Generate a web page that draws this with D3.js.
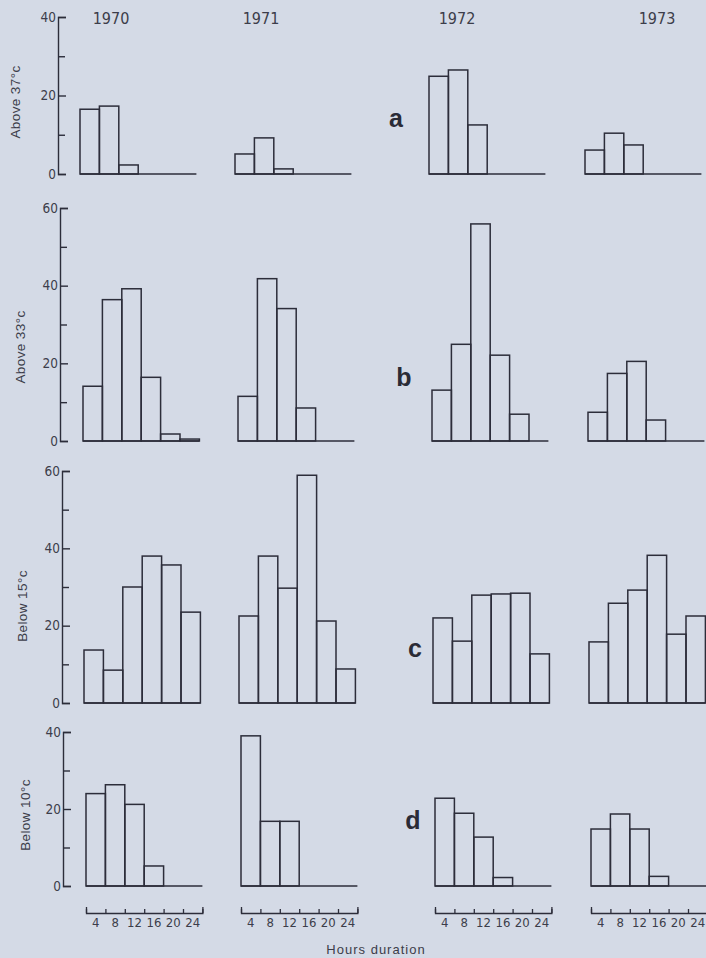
<!DOCTYPE html>
<html>
<head>
<meta charset="utf-8">
<script src="https://cdn.jsdelivr.net/npm/d3@7.9.0/dist/d3.min.js"></script>
<style>
  html, body { margin: 0; padding: 0; background: #d4dae6; }
  svg { display: block; }
</style>
</head>
<body>
<svg id="chart"></svg>
<script>
// --- data ---
const years = ["1970", "1971", "1972", "1973"];
const bins = ["4", "8", "12", "16", "20", "24"];
const rowLabels = ["Above 37°c", "Above 33°c", "Below 15°c", "Below 10°c"];
const panelLetters = ["a", "b", "c", "d"];
const rowMax = [40, 60, 60, 40];
const majorTicks = [[0, 20, 40], [0, 20, 40, 60], [0, 20, 40, 60], [0, 20, 40]];
const minorTicks = [[10, 30], [10, 30, 50], [10, 30, 50], [10, 30]];

// one array per year, values per bin
const above37 = [
    [16.5, 17.3, 2.3, 0, 0, 0],
    [5.1, 9.2, 1.3, 0, 0, 0],
    [24.9, 26.5, 12.5, 0, 0, 0],
    [6.1, 10.4, 7.4, 0, 0, 0]
];
const above33 = [
    [14.1, 36.4, 39.2, 16.4, 1.8, 0.5],
    [11.5, 41.8, 34.1, 8.5, 0, 0],
    [13.1, 24.9, 55.9, 22.1, 6.9, 0],
    [7.4, 17.4, 20.5, 5.4, 0, 0]
];
const below15 = [
    [13.7, 8.5, 30, 38, 35.7, 23.5],
    [22.5, 38, 29.7, 58.9, 21.2, 8.8],
    [22, 16, 27.9, 28.2, 28.4, 12.7],
    [15.8, 25.8, 29.2, 38.2, 17.8, 22.5]
];
const below10 = [
    [24, 26.3, 21.2, 5.2, 0, 0],
    [39, 16.8, 16.8, 0, 0, 0],
    [22.8, 18.9, 12.7, 2.2, 0, 0],
    [14.8, 18.7, 14.8, 2.5, 0, 0]
];
const rows = [above37, above33, below15, below10];

// --- layout ---
const W = 706, H = 958;
const ink = "#2c2d3a";
const textCol = "#3c3d4a";
const narrow = "'Liberation Sans Narrow', 'DejaVu Sans Condensed', 'Liberation Sans', sans-serif";
const regular = "'Liberation Sans', Arial, sans-serif";

const rowBase = [174, 441, 703, 886];
const rowTop = [17, 208, 471, 732];
const rowShift = [-4, -1, 0, 2];
const colX = [84, 239, 433, 589];
const binW = 19.4;
const axisX = [58, 60, 62, 63];
const titleX = [15, 20, 22, 25];
const titleY = [102, 347, 606, 815];
const yearX = [111, 261, 457, 657];
const letterPos = [[396, 118], [404, 377], [415, 648], [413, 820]];

const svg = d3.select("#chart").attr("width", W).attr("height", H);

// year headings
svg.selectAll(".year")
    .data(years)
    .enter()
    .append("text")
    .attr("class", "year")
    .attr("x", (d, i) => yearX[i])
    .attr("y", 24)
    .attr("text-anchor", "middle")
    .style("font-family", narrow)
    .style("font-size", "16px")
    .attr("fill", textCol)
    .text(d => d);

rows.forEach((rowData, r) => {
    const y = d3.scaleLinear()
        .domain([0, rowMax[r]])
        .range([rowBase[r], rowTop[r]]);

    // y axis on the left of first panel, ticks pointing inwards
    const ax = svg.append("g").attr("transform", `translate(${axisX[r]},0)`);
    ax.call(d3.axisLeft(y).tickValues(majorTicks[r]).tickSize(-8).tickSizeOuter(-8).tickPadding(2));
    ax.append("g").call(d3.axisLeft(y).tickValues(minorTicks[r]).tickSize(-7).tickFormat(""))
        .select(".domain").remove();
    ax.selectAll("path, line").attr("stroke", ink).attr("stroke-width", 1.4);
    ax.selectAll("text")
        .style("font-family", narrow)
        .style("font-size", "13.5px")
        .attr("fill", textCol);

    // row title
    svg.append("text")
        .attr("transform", `translate(${titleX[r]},${titleY[r]}) rotate(-90)`)
        .attr("text-anchor", "middle")
        .attr("dominant-baseline", "central")
        .style("font-family", regular)
        .style("font-size", "13.5px")
        .style("letter-spacing", "0.4px")
        .attr("fill", textCol)
        .text(rowLabels[r]);

    // panel letter
    svg.append("text")
        .attr("x", letterPos[r][0])
        .attr("y", letterPos[r][1])
        .attr("text-anchor", "middle")
        .attr("dominant-baseline", "central")
        .style("font-family", regular)
        .style("font-size", "25px")
        .style("font-weight", "bold")
        .attr("fill", "#2a2b36")
        .text(panelLetters[r]);

    rowData.forEach((vals, c) => {
        const x0 = colX[c] + rowShift[r];
        const x = d3.scaleBand()
            .domain(bins)
            .range([x0, x0 + binW * bins.length])
            .padding(0);

        const g = svg.append("g");

        // baseline
        g.append("line")
            .attr("x1", x.range()[0])
            .attr("x2", x.range()[1])
            .attr("y1", y(0))
            .attr("y2", y(0))
            .attr("stroke", ink)
            .attr("stroke-width", 1.5);

        g.selectAll("rect")
            .data(vals.map((v, i) => ({ bin: bins[i], v: v })).filter(d => d.v > 0))
            .enter()
            .append("rect")
            .attr("x", d => x(d.bin))
            .attr("y", d => y(d.v))
            .attr("width", x.bandwidth())
            .attr("height", d => y(0) - y(d.v))
            .attr("fill", "none")
            .attr("stroke", ink)
            .attr("stroke-width", 1.5);

        // hours axis under the last row
        if (r === rows.length - 1) {
            const xb = d3.scaleLinear().domain([0, bins.length]).range(x.range());
            const bx = svg.append("g").attr("transform", "translate(0,913)");
            bx.call(d3.axisBottom(xb).tickValues(d3.range(0, bins.length + 1)).tickSize(-4).tickSizeOuter(-6).tickFormat(""));
            bx.selectAll("path, line").attr("stroke", ink).attr("stroke-width", 1.3);

            const lx = svg.append("g").attr("transform", "translate(0,916)");
            lx.call(d3.axisBottom(x).tickSize(0).tickPadding(2));
            lx.select(".domain").remove();
            lx.selectAll("text")
                .style("font-family", narrow)
                .style("font-size", "13px")
                .attr("fill", textCol);
        }
    });
});

svg.append("text")
    .attr("x", 376)
    .attr("y", 954)
    .attr("text-anchor", "middle")
    .style("font-family", regular)
    .style("font-size", "13px")
    .style("letter-spacing", "1px")
    .attr("fill", textCol)
    .text("Hours duration");
</script>
</body>
</html>
